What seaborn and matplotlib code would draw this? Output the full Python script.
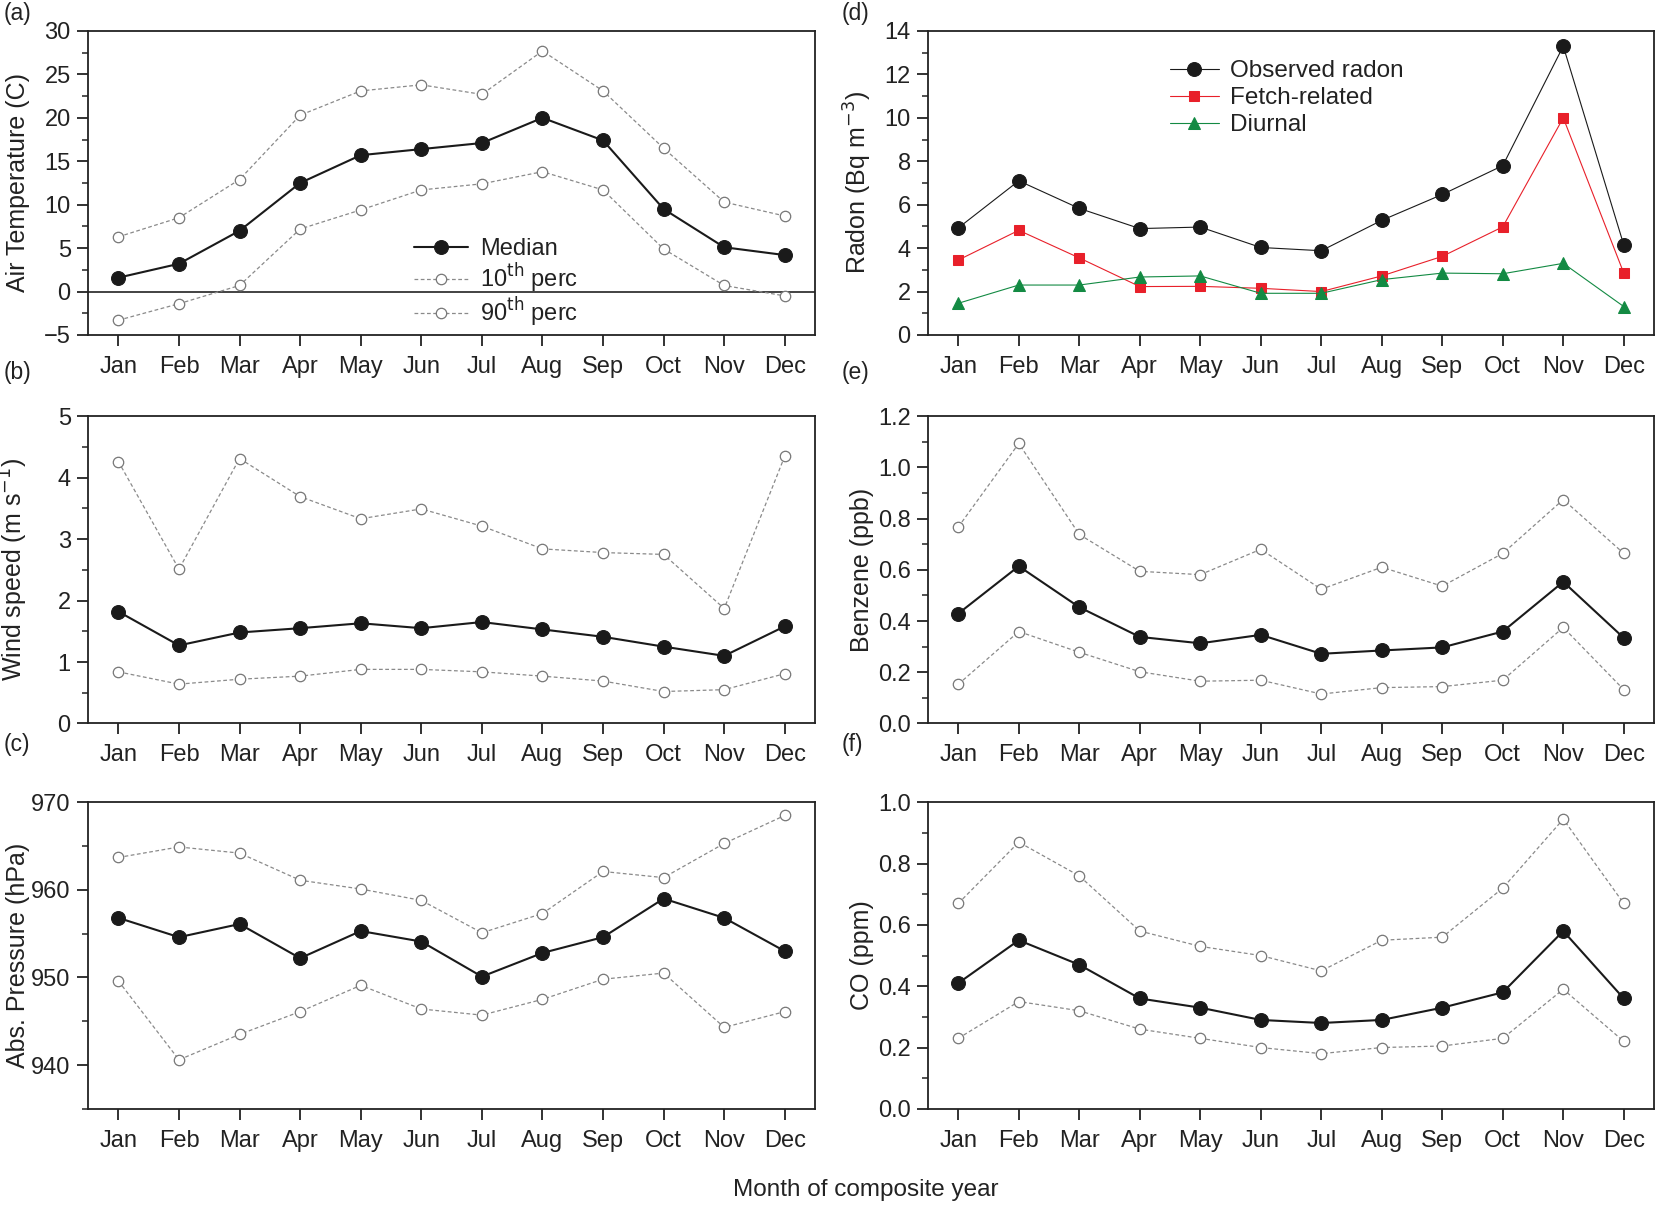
import numpy as np
import pandas as pd
import matplotlib
matplotlib.use("Agg")
import matplotlib.pyplot as plt
from matplotlib.ticker import AutoMinorLocator, MultipleLocator, FormatStrFormatter
import seaborn as sns

months = ["Jan", "Feb", "Mar", "Apr", "May", "Jun", "Jul", "Aug", "Sep", "Oct", "Nov", "Dec"]

temp_median = [1.6, 3.2, 7.0, 12.5, 15.7, 16.4, 17.1, 20.0, 17.4, 9.5, 5.1, 4.2]
temp_p10 = [-3.3, -1.4, 0.7, 7.2, 9.4, 11.7, 12.4, 13.8, 11.7, 4.9, 0.7, -0.5]
temp_p90 = [6.3, 8.5, 12.9, 20.3, 23.1, 23.8, 22.7, 27.7, 23.1, 16.5, 10.3, 8.7]

wind_median = [1.82, 1.27, 1.48, 1.55, 1.63, 1.55, 1.65, 1.53, 1.41, 1.25, 1.10, 1.58]
wind_p10 = [0.84, 0.64, 0.72, 0.77, 0.88, 0.88, 0.84, 0.77, 0.69, 0.52, 0.55, 0.81]
wind_p90 = [4.26, 2.51, 4.31, 3.69, 3.33, 3.49, 3.21, 2.84, 2.78, 2.75, 1.87, 4.35]

pres_median = [956.8, 954.6, 956.1, 952.2, 955.3, 954.1, 950.1, 952.8, 954.6, 959.0, 956.8, 953.0]
pres_p10 = [949.6, 940.6, 943.5, 946.1, 949.1, 946.4, 945.7, 947.5, 949.8, 950.5, 944.3, 946.1]
pres_p90 = [963.7, 964.9, 964.2, 961.1, 960.1, 958.8, 955.1, 957.3, 962.1, 961.4, 965.3, 968.5]

radon_obs = [4.93, 7.1, 5.83, 4.9, 4.97, 4.03, 3.88, 5.28, 6.47, 7.8, 13.3, 4.15]
radon_fetch = [3.45, 4.82, 3.55, 2.23, 2.24, 2.15, 2.0, 2.72, 3.62, 4.98, 10.0, 2.85]
radon_diurnal = [1.46, 2.3, 2.3, 2.67, 2.72, 1.92, 1.92, 2.55, 2.85, 2.82, 3.3, 1.31]

benz_median = [0.429, 0.614, 0.454, 0.338, 0.313, 0.346, 0.272, 0.285, 0.297, 0.359, 0.553, 0.334]
benz_p10 = [0.153, 0.359, 0.278, 0.202, 0.165, 0.169, 0.115, 0.140, 0.144, 0.169, 0.375, 0.132]
benz_p90 = [0.767, 1.093, 0.738, 0.594, 0.581, 0.680, 0.524, 0.610, 0.536, 0.664, 0.874, 0.664]

co_median = [0.41, 0.55, 0.47, 0.36, 0.33, 0.29, 0.28, 0.29, 0.33, 0.38, 0.58, 0.36]
co_p10 = [0.23, 0.35, 0.32, 0.26, 0.23, 0.20, 0.18, 0.20, 0.205, 0.23, 0.39, 0.22]
co_p90 = [0.67, 0.87, 0.76, 0.58, 0.53, 0.50, 0.45, 0.55, 0.56, 0.72, 0.945, 0.67]

sns.set_theme(style="ticks")
plt.rcParams["font.family"] = ["Liberation Sans", "DejaVu Sans"]
plt.rcParams["axes.edgecolor"] = "#222222"
plt.rcParams["axes.linewidth"] = 1.3

fig = plt.figure(figsize=(16.56, 12.05), dpi=100)

left_col = (0.0532, 0.4390)
right_col = (0.5604, 0.4384)
rows = [(0.7220, 0.2523), (0.3996, 0.2551), (0.0798, 0.2544)]

pos = np.arange(len(months))
TICK_FS = 17
LABEL_FS = 18
INK = "#222222"


def make_ax(col, row):
    l, w = col
    b, h = rows[row]
    return fig.add_axes([l, b, w, h])


def style_ax(ax, ylim, major, ylabel, label_x):
    ax.set_xlim(-0.5, 11.5)
    ax.set_ylim(*ylim)
    ax.set_xticks(pos)
    ax.set_xticklabels(months)
    ax.yaxis.set_major_locator(MultipleLocator(major))
    ax.yaxis.set_minor_locator(AutoMinorLocator(2))
    ax.tick_params(axis="both", which="major", direction="out", length=8, width=1.3,
                   labelsize=TICK_FS, colors=INK, pad=4.5)
    ax.tick_params(axis="y", which="minor", direction="out", length=4.5, width=1.1, colors=INK)
    ax.tick_params(axis="x", pad=7)
    ax.set_ylabel(ylabel, fontsize=LABEL_FS, color=INK)
    ax.yaxis.set_label_coords(label_x, 0.5)
    ax.set_xlabel("")
    for s in ax.spines.values():
        s.set_visible(True)
        s.set_color(INK)


def pct_panel(ax, med, p10, p90, legend=False):
    sns.lineplot(x=pos, y=p10, ax=ax, color="#8a8a8a", linestyle=(0, (3, 2)), linewidth=0.9,
                 marker="o", markersize=7.5, markerfacecolor="white", markeredgecolor="#777777",
                 markeredgewidth=0.9, label="10$^{\\rm th}$ perc", legend=False, zorder=2)
    sns.lineplot(x=pos, y=p90, ax=ax, color="#8a8a8a", linestyle=(0, (3, 2)), linewidth=0.9,
                 marker="o", markersize=7.5, markerfacecolor="white", markeredgecolor="#777777",
                 markeredgewidth=0.9, label="90$^{\\rm th}$ perc", legend=False, zorder=2)
    sns.lineplot(x=pos, y=med, ax=ax, color="#1a1a1a", linewidth=1.5,
                 marker="o", markersize=10, markerfacecolor="#1a1a1a", markeredgecolor="#1a1a1a",
                 label="Median", legend=False, zorder=3)
    if legend:
        h, l = ax.get_legend_handles_labels()
        order = [2, 0, 1]
        ax.legend([h[i] for i in order], [l[i] for i in order], loc="upper left",
                  bbox_to_anchor=(0.435, 0.35), frameon=False, fontsize=17,
                  handlelength=2.3, handletextpad=0.5, labelspacing=0.05, borderaxespad=0,
                  labelcolor=INK)


LX_L = -0.080
LX_R = -0.075

# (a)
ax_a = make_ax(left_col, 0)
ax_a.axhline(0, color=INK, linewidth=1.2, zorder=1)
pct_panel(ax_a, temp_median, temp_p10, temp_p90, legend=True)
style_ax(ax_a, (-5, 30), 5, "Air Temperature (C)", LX_L)

# (b)
ax_b = make_ax(left_col, 1)
pct_panel(ax_b, wind_median, wind_p10, wind_p90)
style_ax(ax_b, (0, 5), 1, "Wind speed (m s$^{-1}$)", LX_L)

# (c)
ax_c = make_ax(left_col, 2)
pct_panel(ax_c, pres_median, pres_p10, pres_p90)
style_ax(ax_c, (935, 970), 10, "Abs. Pressure (hPa)", LX_L)
ax_c.set_yticks([940, 950, 960, 970])
ax_c.yaxis.set_minor_locator(MultipleLocator(5))

# (d)
ax_d = make_ax(right_col, 0)
sns.lineplot(x=pos, y=radon_obs, ax=ax_d, color="#1a1a1a", linewidth=0.8, marker="o",
             markersize=10, markeredgecolor="#1a1a1a", label="Observed radon", legend=False, zorder=3)
sns.lineplot(x=pos, y=radon_fetch, ax=ax_d, color="#e8202a", linewidth=0.8, marker="s",
             markersize=6.5, markeredgecolor="#e8202a", label="Fetch-related", legend=False, zorder=2)
sns.lineplot(x=pos, y=radon_diurnal, ax=ax_d, color="#138a43", linewidth=0.8, marker="^",
             markersize=8, markeredgecolor="#138a43", label="Diurnal", legend=False, zorder=2)
ax_d.legend(loc="upper left", bbox_to_anchor=(0.32, 0.935), frameon=False, fontsize=17.5,
            handlelength=2.0, handletextpad=0.45, labelspacing=0.2, borderaxespad=0,
            labelcolor=INK)
style_ax(ax_d, (0, 14), 2, "Radon (Bq m$^{-3}$)", LX_R)

# (e)
ax_e = make_ax(right_col, 1)
pct_panel(ax_e, benz_median, benz_p10, benz_p90)
style_ax(ax_e, (0, 1.2), 0.2, "Benzene (ppb)", LX_R)
ax_e.yaxis.set_major_formatter(FormatStrFormatter("%.1f"))

# (f)
ax_f = make_ax(right_col, 2)
pct_panel(ax_f, co_median, co_p10, co_p90)
style_ax(ax_f, (0, 1.0), 0.2, "CO (ppm)", LX_R)
ax_f.yaxis.set_major_formatter(FormatStrFormatter("%.1f"))

# panel letters
for letter, x, y in [("(a)", 0.002, 0.989), ("(b)", 0.002, 0.691), ("(c)", 0.002, 0.382),
                     ("(d)", 0.508, 0.989), ("(e)", 0.508, 0.691), ("(f)", 0.508, 0.382)]:
    fig.text(x, y, letter, ha="left", va="center", fontsize=16.5, color=INK)

fig.text(0.523, 0.0125, "Month of composite year", ha="center", va="center",
         fontsize=17.5, color=INK)

fig.savefig("out.png", dpi=100, facecolor="white")
